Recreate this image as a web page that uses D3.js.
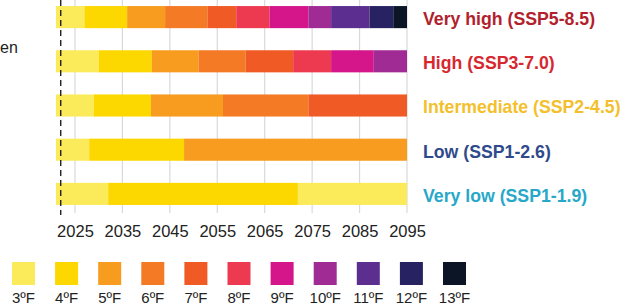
<!DOCTYPE html>
<html>
<head>
<meta charset="utf-8">
<script src="https://cdn.jsdelivr.net/npm/d3@7"></script>
<style>
  body { margin: 0; background: #fff; }
  svg { font-family: "Liberation Sans", Arial, sans-serif; }
</style>
</head>
<body>
<div id="chart"></div>
<script>
// warming levels and their colours
let levels = ['3ºF','4ºF','5ºF','6ºF','7ºF','8ºF','9ºF','10ºF','11ºF','12ºF','13ºF'];
let levelColors = ['#fbeb5b','#fdd700','#f79c1f','#f47a26','#f05a24','#ee3a50','#d4168a','#a12b95','#5b2e90','#272262','#0b1526'];

// scenarios top to bottom
let scenarios = ['Very high (SSP5-8.5)','High (SSP3-7.0)','Intermediate (SSP2-4.5)','Low (SSP1-2.6)','Very low (SSP1-1.9)'];
let scenarioColors = ['#b21f2d','#d7282f','#f4bf2c','#2f4a8b','#27a8c8'];

// year each level starts, level index (0 = 3ºF)
let veryHighSegs = [[2021,0],[2027,1],[2036,2],[2044,3],[2053,4],[2059,5],[2066,6],[2074.2,7],[2079,8],[2087.1,9],[2092.1,10]];
let highSegs = [[2021,0],[2030,1],[2041.2,2],[2051.1,3],[2061,4],[2071,5],[2079,6],[2088,7]];
let intermediateSegs = [[2021,0],[2029,1],[2041,2],[2056.2,3],[2074.2,4]];
let lowSegs = [[2021,0],[2028,1],[2048,2]];
let veryLowSegs = [[2021,0],[2032,1],[2072,0]];
let allSegs = [veryHighSegs, highSegs, intermediateSegs, lowSegs, veryLowSegs];

let startYear = 2021, endYear = 2095, nowYear = 2022;
let tickYears = [2025,2035,2045,2055,2065,2075,2085,2095];

let svgWidth = 627, svgHeight = 307;
let svg = d3.select('#chart').append('svg')
    .attr('width', svgWidth)
    .attr('height', svgHeight);

let x = d3.scaleLinear().domain([startYear, endYear]).range([56, 407]);
let y = d3.scaleBand().domain(scenarios).range([-5, 216]).paddingInner(0.5).paddingOuter(0.25);

// gridlines
svg.append('g').selectAll('line')
    .data(tickYears).enter().append('line')
    .attr('x1', d => x(d)).attr('x2', d => x(d))
    .attr('y1', 0).attr('y2', 213)
    .attr('stroke', '#d9d9d9').attr('stroke-width', 1.2);

// bars
allSegs.forEach((segs, i) => {
    let g = svg.append('g');
    g.selectAll('rect').data(segs).enter().append('rect')
        .attr('x', d => x(d[0]))
        .attr('width', (d, j) => x(j < segs.length - 1 ? segs[j + 1][0] : endYear) - x(d[0]))
        .attr('y', y(scenarios[i]))
        .attr('height', y.bandwidth())
        .attr('fill', d => levelColors[d[1]]);
});

// current year dashed line
svg.append('line')
    .attr('x1', x(nowYear)).attr('x2', x(nowYear))
    .attr('y1', 0).attr('y2', 215)
    .attr('stroke', '#111').attr('stroke-width', 1.3)
    .attr('stroke-dasharray', '6,4');

// x axis labels
let xAxis = d3.axisBottom(x).tickValues(tickYears).tickFormat(d3.format('d')).tickSize(0).tickPadding(0);
let axisG = svg.append('g').attr('transform', 'translate(0,225)').call(xAxis);
axisG.select('.domain').remove();
axisG.selectAll('text').attr('font-size', 16.5).attr('fill', '#222')
    .attr('font-family', '"Liberation Sans", Arial, sans-serif');

// scenario labels
svg.append('g').selectAll('text')
    .data(scenarios).enter().append('text')
    .attr('x', 423)
    .attr('y', d => y(d) + y.bandwidth() / 2)
    .attr('dy', '0.45em')
    .attr('font-size', 17.7).attr('font-weight', 'bold')
    .attr('fill', (d, i) => scenarioColors[i])
    .text(d => d);

// leftover text at the left edge
svg.append('text').attr('x', 0).attr('y', 53)
    .attr('font-size', 16).attr('fill', '#222').text('en');

// legend
let lx = d3.scaleLinear().domain([0, levels.length - 1]).range([12, 443]);
let legend = svg.append('g').selectAll('g')
    .data(levels).enter().append('g')
    .attr('transform', (d, i) => `translate(${lx(i)},262)`);
legend.append('rect')
    .attr('width', 23).attr('height', 23)
    .attr('fill', (d, i) => levelColors[i]);
legend.append('text')
    .attr('x', 11.5).attr('y', 41)
    .attr('text-anchor', 'middle')
    .attr('font-size', 15).attr('fill', '#222')
    .text(d => d);
</script>
</body>
</html>
